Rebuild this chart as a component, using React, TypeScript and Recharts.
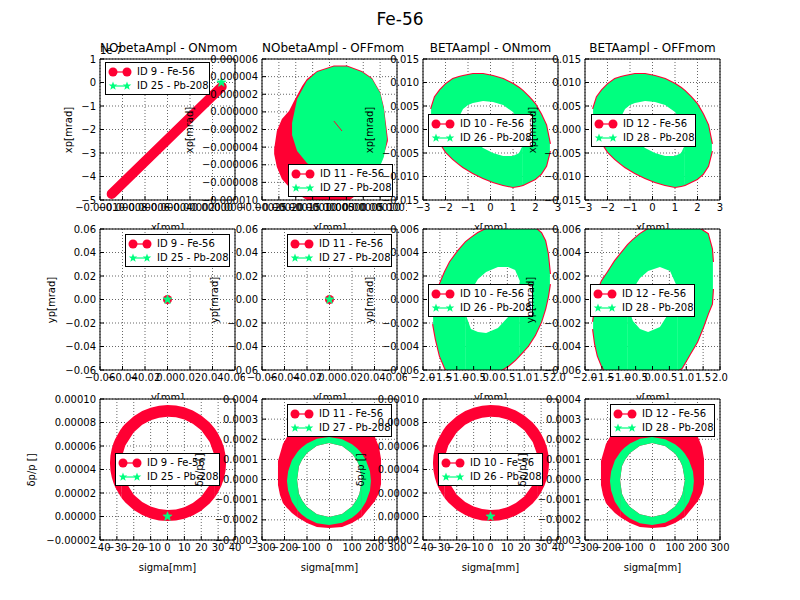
import React from 'react';
import { ComposedChart, Area, Line, Scatter, XAxis, YAxis, CartesianGrid } from 'recharts';

const RED = '#ff0033';
const GREEN = '#00ff7f';
const FONT = '"DejaVu Sans", Verdana, sans-serif';

// a filled shape read column by column: [x, outer low, outer high, hole low, hole high]
type Ring = [number, number, number, number | null, number | null];
type Pt = { x: number; y: number };

// ---- NObetaAmpl - ONmom : x vs xp (Fe-56 lies on a thin straight band)
const noOnXFe: Pt[] = [
  { x: -0.0000896, y: -4.74e-7 },
  { x: 0.0000082, y: -0.18e-7 },
];
const noOnXPb: Pt[] = [{ x: 0.0000079, y: 0 }];

// ---- NObetaAmpl - OFFmom : x vs xp (two filled clouds)
const noOffXFe: Ring[] = [
  [-214e-6, -4.78e-6, -4.21e-6, null, null],
  [-206e-6, -6.26e-6, -2.17e-6, null, null],
  [-191e-6, -7.62e-6, -0.81e-6, null, null],
  [-170e-6, -8.53e-6, 0.1e-6, null, null],
  [-155e-6, -8.98e-6, 1.23e-6, null, null],
  [-131e-6, -9.66e-6, 2.94e-6, null, null],
  [-117e-6, -10.0e-6, 3.73e-6, null, null],
  [-87e-6, -10.45e-6, 4.64e-6, null, null],
  [-37e-6, -10.57e-6, 5.26e-6, null, null],
  [2e-6, -10.23e-6, 5.26e-6, null, null],
  [46e-6, -8.98e-6, 4.64e-6, null, null],
  [76e-6, -7.62e-6, 3.84e-6, null, null],
  [100e-6, -6.03e-6, 2.26e-6, null, null],
  [111e-6, -4.89e-6, 0.55e-6, null, null],
  [123e-6, -3.31e-6, -3.08e-6, null, null],
];
const noOffXPb: Ring[] = [
  [-161e-6, -2.62e-6, -1.26e-6, null, null],
  [-146e-6, -4.44e-6, 1.46e-6, null, null],
  [-117e-6, -5.8e-6, 3.5e-6, null, null],
  [-87e-6, -6.6e-6, 4.52e-6, null, null],
  [-37e-6, -7.84e-6, 5.15e-6, null, null],
  [2e-6, -8.41e-6, 5.15e-6, null, null],
  [46e-6, -8.07e-6, 4.52e-6, null, null],
  [76e-6, -7.28e-6, 3.73e-6, null, null],
  [100e-6, -6.14e-6, 2.14e-6, null, null],
  [111e-6, -5.12e-6, 0.33e-6, null, null],
  [120e-6, -3.19e-6, -2.96e-6, null, null],
];
const noOffXFeStreak: Pt[] = [
  { x: -37e-6, y: -1.04e-6 },
  { x: -13e-6, y: -2.17e-6 },
];

// ---- BETAampl : x vs xp (Pb-208 ring, Fe-56 only shows as a thin rim; ON and OFF look alike)
const betaXPb: Ring[] = [
  [-2.64, 0.00309, 0.00436, null, null],
  [-2.47, -0.00032, 0.00691, null, null],
  [-2.24, -0.00287, 0.0084, null, null],
  [-1.98, -0.00479, 0.00968, null, null],
  [-1.67, -0.00628, 0.01074, null, null],
  [-1.4, -0.00734, 0.01117, 0.00266, 0.00266],
  [-1.22, -0.00798, 0.01138, 0.00053, 0.00436],
  [-1.0, -0.00862, 0.0116, -0.00096, 0.00521],
  [-0.78, -0.00926, 0.01181, -0.00223, 0.00564],
  [-0.33, -0.01032, 0.01181, -0.00394, 0.00606],
  [0.11, -0.01117, 0.01138, -0.005, 0.00585],
  [0.56, -0.01181, 0.01074, -0.00564, 0.00521],
  [1.0, -0.01223, 0.00968, -0.00564, 0.00372],
  [1.27, -0.01202, 0.00883, -0.005, 0.00181],
  [1.44, -0.01181, 0.00819, -0.0033, -0.0033],
  [1.71, -0.01117, 0.00691, null, null],
  [1.98, -0.01053, 0.00543, null, null],
  [2.24, -0.00947, 0.0033, null, null],
  [2.47, -0.00777, 0.00096, null, null],
  [2.64, -0.00457, -0.00309, null, null],
];

// ---- NObetaAmpl : y vs yp (both species at the origin)
const noYFe: Pt[] = [{ x: 0, y: 0 }];
const noYPb: Pt[] = [{ x: 0, y: 0 }];

// ---- BETAampl : y vs yp
const betaOnYPb: Ring[] = [
  [-1.7, -0.00209, -0.0014, null, null],
  [-1.62, -0.00336, 0.00004, null, null],
  [-1.5, -0.00481, 0.00132, null, null],
  [-1.35, -0.00583, 0.00234, null, null],
  [-1.2, -0.00643, 0.00319, null, null],
  [-0.96, -0.00677, 0.00413, null, null],
  [-0.73, -0.00694, 0.00489, -0.00132, -0.00132],
  [-0.58, -0.00694, 0.00523, -0.00251, 0.00072],
  [-0.37, -0.00685, 0.00566, -0.00277, 0.00174],
  [-0.13, -0.0066, 0.006, -0.00285, 0.00234],
  [0.22, -0.00617, 0.00643, -0.00243, 0.00277],
  [0.52, -0.00566, 0.00668, -0.00149, 0.00277],
  [0.73, -0.00515, 0.00668, -0.00038, 0.00251],
  [0.87, -0.00472, 0.0066, 0.00157, 0.00157],
  [1.11, -0.00396, 0.00643, null, null],
  [1.32, -0.00302, 0.00609, null, null],
  [1.5, -0.00191, 0.00566, null, null],
  [1.62, -0.00081, 0.00498, null, null],
  [1.7, 0.00021, 0.00387, null, null],
  [1.76, 0.00132, 0.00217, null, null],
];
const betaOffYPb: Ring[] = [
  [-1.76, -0.00251, -0.00191, null, null],
  [-1.7, -0.00379, -0.00064, null, null],
  [-1.62, -0.00481, 0.00072, null, null],
  [-1.5, -0.00566, 0.00157, null, null],
  [-1.32, -0.00651, 0.00234, null, null],
  [-1.11, -0.00702, 0.00328, null, null],
  [-0.73, -0.00745, 0.00464, -0.00055, -0.00055],
  [-0.58, -0.00745, 0.00506, -0.00183, 0.00089],
  [-0.37, -0.00736, 0.00557, -0.00251, 0.00183],
  [-0.13, -0.00719, 0.006, -0.00277, 0.00243],
  [0.22, -0.00685, 0.00643, -0.00234, 0.00277],
  [0.52, -0.00643, 0.00668, -0.00098, 0.00243],
  [0.73, -0.00609, 0.00668, 0.00106, 0.00106],
  [0.87, -0.00583, 0.0066, null, null],
  [1.11, -0.00464, 0.00643, null, null],
  [1.32, -0.00362, 0.00617, null, null],
  [1.5, -0.00234, 0.00583, null, null],
  [1.64, -0.00123, 0.00557, null, null],
  [1.76, -0.00038, 0.0043, null, null],
  [1.79, 0.00089, 0.00319, null, null],
];

// ---- NObetaAmpl : sigma vs dp/p (Fe-56 ring, Pb-208 at the origin; ON and OFF look alike)
const noSFe: Ring[] = [
  [-34.1, 45.5e-6, 45.5e-6, null, null],
  [-33.8, 39.0e-6, 52.0e-6, null, null],
  [-33, 33.1e-6, 57.9e-6, null, null],
  [-32, 28.5e-6, 62.5e-6, null, null],
  [-31, 25.0e-6, 66.0e-6, null, null],
  [-28, 17.4e-6, 73.6e-6, null, null],
  [-27.1, 15.6e-6, 75.4e-6, 45.2e-6, 45.2e-6],
  [-26.5, 14.5e-6, 76.5e-6, 37.0e-6, 53.4e-6],
  [-25, 12.0e-6, 79.0e-6, 30.0e-6, 60.4e-6],
  [-20, 5.6e-6, 85.4e-6, 18.6e-6, 71.8e-6],
  [-15, 1.3e-6, 89.7e-6, 12.3e-6, 78.1e-6],
  [-10, -1.6e-6, 92.6e-6, 8.5e-6, 81.9e-6],
  [-5, -3.3e-6, 94.3e-6, 6.3e-6, 84.1e-6],
  [0, -3.9e-6, 94.9e-6, 5.5e-6, 84.9e-6],
  [5, -3.4e-6, 94.4e-6, 6.0e-6, 84.4e-6],
  [10, -1.9e-6, 92.9e-6, 7.9e-6, 82.5e-6],
  [15, 0.8e-6, 90.2e-6, 11.4e-6, 79.0e-6],
  [20, 5.0e-6, 86.0e-6, 17.1e-6, 73.3e-6],
  [25, 11.1e-6, 79.9e-6, 26.9e-6, 63.5e-6],
  [27.5, 15.3e-6, 75.7e-6, 37.0e-6, 53.4e-6],
  [28.1, 16.4e-6, 74.6e-6, 45.2e-6, 45.2e-6],
  [30, 20.6e-6, 70.4e-6, null, null],
  [32, 26.3e-6, 64.7e-6, null, null],
  [33.5, 32.5e-6, 58.5e-6, null, null],
  [34.4, 39.0e-6, 52.0e-6, null, null],
  [34.7, 45.5e-6, 45.5e-6, null, null],
];
const noSPb: Pt[] = [{ x: 0, y: 0 }];

// ---- BETAampl : sigma vs dp/p, [x, Fe low, Fe high, Pb low, Pb high, hole low, hole high]
const betaS: (number | null)[][] = [
  [-229, -0.269e-4, 0.922e-4, null, null, null, null],
  [-220, -0.766e-4, 1.27e-4, null, null, null, null],
  [-207, -1.163e-4, 1.766e-4, null, null, null, null],
  [-189, -1.411e-4, 2.114e-4, -0.071e-4, -0.071e-4, null, null],
  [-184, -1.46e-4, 2.213e-4, -0.543e-4, 0.401e-4, null, null],
  [-167, -1.66e-4, 2.809e-4, -1.103e-4, 0.962e-4, null, null],
  [-144, -1.858e-4, 3.007e-4, -1.486e-4, 1.344e-4, -0.021e-4, -0.021e-4],
  [-136, -1.92e-4, 3.07e-4, -1.6e-4, 1.458e-4, -0.701e-4, 0.659e-4],
  [-122, -2.007e-4, 3.156e-4, -1.744e-4, 1.602e-4, -1.029e-4, 0.987e-4],
  [-100, -2.156e-4, 3.255e-4, -1.933e-4, 1.791e-4, -1.362e-4, 1.319e-4],
  [-56, -2.355e-4, 3.355e-4, -2.166e-4, 2.024e-4, -1.724e-4, 1.682e-4],
  [-2, -2.404e-4, 3.404e-4, -2.255e-4, 2.114e-4, -1.858e-4, 1.816e-4],
  [56, -2.355e-4, 3.355e-4, -2.146e-4, 2.004e-4, -1.709e-4, 1.667e-4],
  [100, -2.156e-4, 3.255e-4, -1.898e-4, 1.756e-4, -1.332e-4, 1.289e-4],
  [122, -2.007e-4, 3.156e-4, -1.699e-4, 1.557e-4, -0.974e-4, 0.932e-4],
  [133, -1.93e-4, 3.08e-4, -1.575e-4, 1.434e-4, -0.701e-4, 0.659e-4],
  [144, -1.858e-4, 3.007e-4, -1.421e-4, 1.279e-4, -0.021e-4, -0.021e-4],
  [162, -1.61e-4, 2.809e-4, -1.103e-4, 0.962e-4, null, null],
  [180, -1.37e-4, 2.35e-4, -0.543e-4, 0.401e-4, null, null],
  [184, -1.312e-4, 2.3e-4, -0.071e-4, -0.071e-4, null, null],
  [202, -1.064e-4, 2.114e-4, null, null, null, null],
  [220, -0.667e-4, 1.617e-4, null, null, null, null],
  [229, -0.22e-4, 1.021e-4, null, null, null, null],
];
const betaSFe = betaS.map((r) => [r[0], r[1], r[2], r[5], r[6]] as Ring);
const betaSPb = betaS.filter((r) => r[3] !== null).map((r) => [r[0], r[3], r[4], r[5], r[6]] as Ring);

// ---- ticks
const xTicksNoOnX = [-0.0001, -0.00008, -0.00006, -0.00004, -0.00002, 0, 0.00002];
const yTicksNoOnX = [-5e-7, -4e-7, -3e-7, -2e-7, -1e-7, 0, 1e-7];
const xTicksNoOffX = [-0.00025, -0.0002, -0.00015, -0.0001, -0.00005, 0, 0.00005, 0.0001, 0.00015];
const yTicksNoOffX = [-0.00001, -0.000008, -0.000006, -0.000004, -0.000002, 0, 0.000002, 0.000004, 0.000006];
const xTicksBetaX = [-3, -2, -1, 0, 1, 2, 3];
const yTicksBetaX = [-0.015, -0.01, -0.005, 0, 0.005, 0.01, 0.015];
const ticksNoY = [-0.06, -0.04, -0.02, 0, 0.02, 0.04, 0.06];
const xTicksBetaY = [-2, -1.5, -1, -0.5, 0, 0.5, 1, 1.5, 2];
const yTicksBetaY = [-0.006, -0.004, -0.002, 0, 0.002, 0.004, 0.006];
const xTicksNoS = [-40, -30, -20, -10, 0, 10, 20, 30, 40];
const yTicksNoS = [-0.00002, 0, 0.00002, 0.00004, 0.00006, 0.00008, 0.0001];
const xTicksBetaS = [-300, -200, -100, 0, 100, 200, 300];
const yTicksBetaS = [-0.0003, -0.0002, -0.0001, 0, 0.0001, 0.0002, 0.0003, 0.0004];

// ---- layout of the 3x4 grid (plot areas, page px)
const COLS = [100, 262, 423, 585];
const ROWS = [59, 229, 399];
const PW = 135;
const PH = 141;
const YW = 80;
const MT = 25;
const MR = 10;
const XH = 45;
const CW = YW + PW + MR;
const CH = MT + PH + XH;

const minus = (s: string) => s.replace('-', '\u2212');
const fixed = (d: number) => (v: number) => minus(v.toFixed(d));

function bands(rows: Ring[]) {
  const top: { x: number; v: [number, number] }[] = [];
  const bottom: { x: number; v: [number, number] }[] = [];
  rows.forEach((r, i) => {
    const [x, lo, hi, hLo, hHi] = r;
    if (hLo === null || hHi === null) {
      top.push({ x, v: [lo, hi] });
      return;
    }
    const prev = rows[i - 1];
    const next = rows[i + 1];
    if (!prev || prev[3] === null) top.push({ x, v: [lo, hi] });
    top.push({ x, v: [hHi, hi] });
    bottom.push({ x, v: [lo, hLo] });
    if (!next || next[3] === null) top.push({ x, v: [lo, hi] });
  });
  return { top, bottom };
}

function ringAreas(id: string, rows: Ring[], color: string) {
  const { top, bottom } = bands(rows);
  const out = [
    <Area key={id + 't'} data={top} dataKey="v" type="linear" stroke="none" fill={color} fillOpacity={1}
      dot={false} activeDot={false} isAnimationActive={false} />,
  ];
  if (bottom.length) {
    out.push(
      <Area key={id + 'b'} data={bottom} dataKey="v" type="linear" stroke="none" fill={color} fillOpacity={1}
        dot={false} activeDot={false} isAnimationActive={false} />
    );
  }
  return out;
}

// thin outline along the outer edge only
function rimAreas(id: string, rows: Ring[], color: string) {
  return [2, 1].map((k) => (
    <Area key={id + k} data={rows.map((r) => ({ x: r[0], y: r[k] }))} dataKey="y" type="linear"
      stroke={color} strokeWidth={2.2} fill="none" dot={false} activeDot={false} isAnimationActive={false} />
  ));
}

function star(cx: number, cy: number, r: number) {
  let d = '';
  for (let i = 0; i < 10; i++) {
    const a = -Math.PI / 2 + (i * Math.PI) / 5;
    const rr = i % 2 ? r * 0.42 : r;
    d += (i ? 'L' : 'M') + (cx + rr * Math.cos(a)).toFixed(2) + ',' + (cy + rr * Math.sin(a)).toFixed(2);
  }
  return d + 'Z';
}

const dotShape = (p: any) => <circle cx={p.cx} cy={p.cy} r={4.5} fill={RED} />;
const starShape = (p: any) => <path d={star(p.cx, p.cy, 4.8)} fill={GREEN} stroke={GREEN} strokeWidth={0.6} />;

const feDot = (id: string, data: Pt[]) => (
  <Scatter key={id} data={data} dataKey="y" shape={dotShape} isAnimationActive={false} />
);
const pbStar = (id: string, data: Pt[]) => (
  <Scatter key={id} data={data} dataKey="y" shape={starShape} isAnimationActive={false} />
);

type Panel = {
  row: number;
  col: number;
  title?: string;
  xLabel: string;
  yLabel: string;
  yLabelDist: number;
  xDomain: [number, number];
  xTicks: number[];
  xFmt: (v: number) => string;
  yDomain: [number, number];
  yTicks: number[];
  yFmt: (v: number) => string;
  legendAt: [number, number];
  ids: [number, number];
  offsetText?: string;
  series: React.ReactNode[];
};

const panels: Panel[] = [
  {
    row: 0, col: 0, title: 'NObetaAmpl - ONmom', xLabel: 'x[mm]', yLabel: 'xp[mrad]', yLabelDist: 31,
    xDomain: [-0.0001, 0.00002], xTicks: xTicksNoOnX, xFmt: fixed(5),
    yDomain: [-5e-7, 1e-7], yTicks: yTicksNoOnX, yFmt: (v) => minus(String(Math.round(v / 1e-7))),
    legendAt: [5, 3], ids: [9, 25], offsetText: '1e-7',
    series: [
      <Line key="fe" data={noOnXFe} dataKey="y" type="linear" stroke={RED} strokeWidth={10} strokeLinecap="round"
        dot={false} activeDot={false} isAnimationActive={false} />,
      pbStar('pb', noOnXPb),
    ],
  },
  {
    row: 0, col: 1, title: 'NObetaAmpl - OFFmom', xLabel: 'x[mm]', yLabel: 'xp[mrad]', yLabelDist: 72,
    xDomain: [-0.00025, 0.00015], xTicks: xTicksNoOffX, xFmt: fixed(5),
    yDomain: [-0.00001, 0.000006], yTicks: yTicksNoOffX, yFmt: fixed(6),
    legendAt: [26, 105], ids: [11, 27],
    series: [
      ...ringAreas('fe', noOffXFe, RED),
      ...ringAreas('pb', noOffXPb, GREEN),
      <Line key="streak" data={noOffXFeStreak} dataKey="y" type="linear" stroke={RED} strokeWidth={1}
        dot={false} activeDot={false} isAnimationActive={false} />,
    ],
  },
  {
    row: 0, col: 2, title: 'BETAampl - ONmom', xLabel: 'x[mm]', yLabel: 'xp[mrad]', yLabelDist: 53,
    xDomain: [-3, 3], xTicks: xTicksBetaX, xFmt: fixed(0),
    yDomain: [-0.015, 0.015], yTicks: yTicksBetaX, yFmt: fixed(3),
    legendAt: [5, 55], ids: [10, 26],
    series: [...rimAreas('fe', betaXPb, RED), ...ringAreas('pb', betaXPb, GREEN)],
  },
  {
    row: 0, col: 3, title: 'BETAampl - OFFmom', xLabel: 'x[mm]', yLabel: 'xp[mrad]', yLabelDist: 52,
    xDomain: [-3, 3], xTicks: xTicksBetaX, xFmt: fixed(0),
    yDomain: [-0.015, 0.015], yTicks: yTicksBetaX, yFmt: fixed(3),
    legendAt: [6, 55], ids: [12, 28],
    series: [...rimAreas('fe', betaXPb, RED), ...ringAreas('pb', betaXPb, GREEN)],
  },
  {
    row: 1, col: 0, xLabel: 'y[mm]', yLabel: 'yp[mrad]', yLabelDist: 48,
    xDomain: [-0.06, 0.06], xTicks: ticksNoY, xFmt: fixed(2),
    yDomain: [-0.06, 0.06], yTicks: ticksNoY, yFmt: fixed(2),
    legendAt: [25, 5], ids: [9, 25],
    series: [feDot('fe', noYFe), pbStar('pb', noYPb)],
  },
  {
    row: 1, col: 1, xLabel: 'y[mm]', yLabel: 'yp[mrad]', yLabelDist: 47,
    xDomain: [-0.06, 0.06], xTicks: ticksNoY, xFmt: fixed(2),
    yDomain: [-0.06, 0.06], yTicks: ticksNoY, yFmt: fixed(2),
    legendAt: [25, 5], ids: [11, 27],
    series: [feDot('fe', noYFe), pbStar('pb', noYPb)],
  },
  {
    row: 1, col: 2, xLabel: 'y[mm]', yLabel: 'yp[mrad]', yLabelDist: 53,
    xDomain: [-2, 2], xTicks: xTicksBetaY, xFmt: fixed(1),
    yDomain: [-0.006, 0.006], yTicks: yTicksBetaY, yFmt: fixed(3),
    legendAt: [5, 55], ids: [10, 26],
    series: [...rimAreas('fe', betaOnYPb, RED), ...ringAreas('pb', betaOnYPb, GREEN)],
  },
  {
    row: 1, col: 3, xLabel: 'y[mm]', yLabel: 'yp[mrad]', yLabelDist: 54,
    xDomain: [-2, 2], xTicks: xTicksBetaY, xFmt: fixed(1),
    yDomain: [-0.006, 0.006], yTicks: yTicksBetaY, yFmt: fixed(3),
    legendAt: [5, 55], ids: [12, 28],
    series: [...rimAreas('fe', betaOffYPb, RED), ...ringAreas('pb', betaOffYPb, GREEN)],
  },
  {
    row: 2, col: 0, xLabel: 'sigma[mm]', yLabel: 'δp/p []', yLabelDist: 68,
    xDomain: [-40, 40], xTicks: xTicksNoS, xFmt: fixed(0),
    yDomain: [-0.00002, 0.0001], yTicks: yTicksNoS, yFmt: fixed(5),
    legendAt: [15, 54], ids: [9, 25],
    series: [...ringAreas('fe', noSFe, RED), pbStar('pb', noSPb)],
  },
  {
    row: 2, col: 1, xLabel: 'sigma[mm]', yLabel: 'δp/p []', yLabelDist: 62,
    xDomain: [-300, 300], xTicks: xTicksBetaS, xFmt: fixed(0),
    yDomain: [-0.0003, 0.0004], yTicks: yTicksBetaS, yFmt: fixed(4),
    legendAt: [25, 5], ids: [11, 27],
    series: [...ringAreas('fe', betaSFe, RED), ...ringAreas('pb', betaSPb, GREEN)],
  },
  {
    row: 2, col: 2, xLabel: 'sigma[mm]', yLabel: 'δp/p []', yLabelDist: 62,
    xDomain: [-40, 40], xTicks: xTicksNoS, xFmt: fixed(0),
    yDomain: [-0.00002, 0.0001], yTicks: yTicksNoS, yFmt: fixed(5),
    legendAt: [15, 54], ids: [10, 26],
    series: [...ringAreas('fe', noSFe, RED), pbStar('pb', noSPb)],
  },
  {
    row: 2, col: 3, xLabel: 'sigma[mm]', yLabel: 'δp/p []', yLabelDist: 62,
    xDomain: [-300, 300], xTicks: xTicksBetaS, xFmt: fixed(0),
    yDomain: [-0.0003, 0.0004], yTicks: yTicksBetaS, yFmt: fixed(4),
    legendAt: [25, 5], ids: [12, 28],
    series: [...ringAreas('fe', betaSFe, RED), ...ringAreas('pb', betaSPb, GREEN)],
  },
];

const tickStyle = { fill: '#000', fontSize: 10, fontFamily: FONT };

function LegendBox({ ids, at }: { ids: [number, number]; at: [number, number] }) {
  const row = (kind: 'fe' | 'pb', label: string) => (
    <div style={{ display: 'flex', alignItems: 'center', height: 14 }}>
      <svg width={28} height={14} style={{ display: 'block' }}>
        <line x1={6} x2={20} y1={7} y2={7} stroke={kind === 'fe' ? RED : GREEN} strokeWidth={1.2} />
        {kind === 'fe' ? (
          <>
            <circle cx={6} cy={7} r={4.5} fill={RED} />
            <circle cx={20} cy={7} r={4.5} fill={RED} />
          </>
        ) : (
          <>
            <path d={star(6, 7, 4.5)} fill={GREEN} />
            <path d={star(20, 7, 4.5)} fill={GREEN} />
          </>
        )}
      </svg>
      <span style={{ marginLeft: 2, whiteSpace: 'nowrap' }}>{label}</span>
    </div>
  );
  return (
    <div
      style={{
        position: 'absolute', left: at[0], top: at[1], width: 105, height: 33, boxSizing: 'border-box',
        border: '1px solid #000', background: '#fff', paddingTop: 2, paddingLeft: 1,
        fontFamily: FONT, fontSize: 10, color: '#000', lineHeight: '14px',
      }}
    >
      {row('fe', `ID ${ids[0]} - Fe-56`)}
      {row('pb', `ID ${ids[1]} - Pb-208`)}
    </div>
  );
}

function SubPlot({ p }: { p: Panel }) {
  const left = COLS[p.col];
  const top = ROWS[p.row];
  const text = { position: 'absolute' as const, fontFamily: FONT, color: '#000', whiteSpace: 'nowrap' as const };
  return (
    <div style={{ position: 'absolute', left: 0, top: 0 }}>
      <div style={{ position: 'absolute', left: left - YW, top: top - MT, width: CW, height: CH }}>
        <ComposedChart width={CW} height={CH} margin={{ top: MT - 1, right: MR - 1, left: 0, bottom: 0 }}>
          <CartesianGrid stroke="#000" strokeWidth={0.6} strokeDasharray="1 2" fill="#fff" fillOpacity={1} />
          <XAxis type="number" dataKey="x" domain={p.xDomain} ticks={p.xTicks} allowDataOverflow interval={0}
            tickFormatter={p.xFmt} height={XH} tickSize={-4} tickMargin={8} stroke="#000" tick={tickStyle} />
          <XAxis xAxisId="top" orientation="top" type="number" domain={p.xDomain} ticks={p.xTicks}
            allowDataOverflow interval={0} height={1} tickSize={-4} tick={false} stroke="#000" />
          <YAxis type="number" dataKey="y" domain={p.yDomain} ticks={p.yTicks} allowDataOverflow interval={0}
            tickFormatter={p.yFmt} width={YW} tickSize={-4} tickMargin={8} stroke="#000" tick={tickStyle} />
          <YAxis yAxisId="right" orientation="right" type="number" domain={p.yDomain} ticks={p.yTicks}
            allowDataOverflow interval={0} width={1} tickSize={-4} tick={false} stroke="#000" />
          {p.series}
        </ComposedChart>
      </div>
      <div style={{ position: 'absolute', left, top, width: PW, height: PH }}>
        <LegendBox ids={p.ids} at={p.legendAt} />
      </div>
      {p.title && (
        <div style={{ ...text, left, top: top - 18, width: PW, textAlign: 'center', fontSize: 12, lineHeight: '14px' }}>
          {p.title}
        </div>
      )}
      {p.offsetText && (
        <div style={{ ...text, left, top: top - 14, fontSize: 10, lineHeight: '12px' }}>{p.offsetText}</div>
      )}
      <div style={{ ...text, left, top: top + PH + 21, width: PW, textAlign: 'center', fontSize: 10, lineHeight: '13px' }}>
        {p.xLabel}
      </div>
      <div
        style={{
          ...text, left: left - p.yLabelDist, top: top + PH / 2, fontSize: 10, lineHeight: '12px',
          transform: 'translate(-50%, -50%) rotate(-90deg)',
        }}
      >
        {p.yLabel}
      </div>
    </div>
  );
}

export default function App() {
  return (
    <div style={{ position: 'absolute', left: 0, top: 0, width: 800, height: 600, background: '#fff', overflow: 'hidden' }}>
      <div style={{ position: 'absolute', left: 0, top: 8, width: 800, textAlign: 'center', fontFamily: FONT, fontSize: 17, lineHeight: '22px' }}>
        Fe-56
      </div>
      {panels.map((p) => (
        <SubPlot key={p.row + '-' + p.col} p={p} />
      ))}
    </div>
  );
}
